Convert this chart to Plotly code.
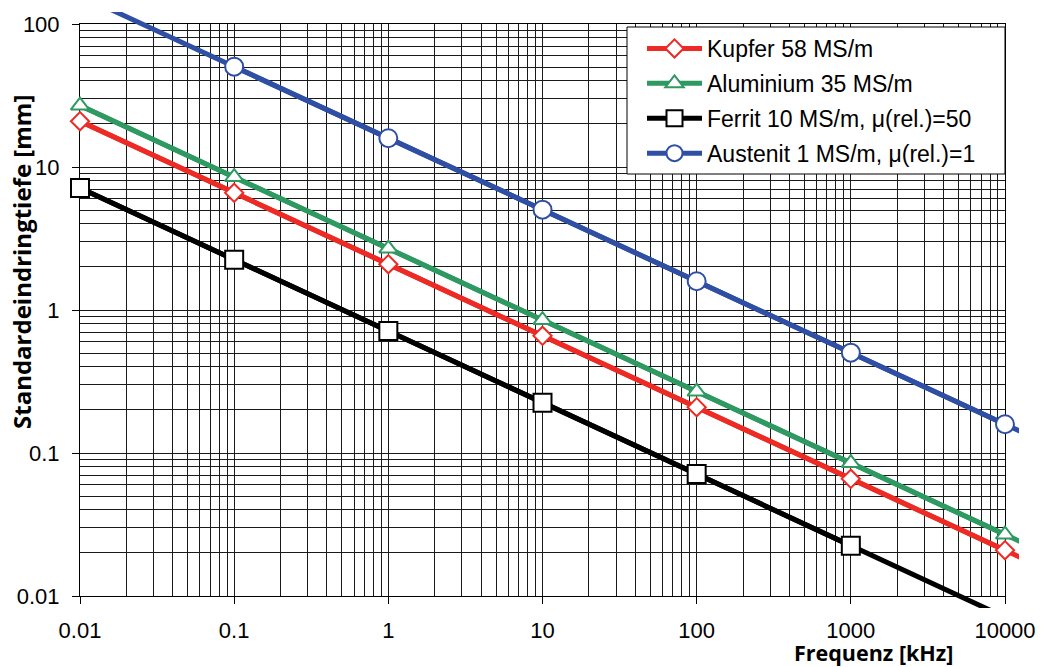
import plotly.graph_objects as go

# ---------------- data ----------------
freq_khz = [0.01, 0.1, 1, 10, 100, 1000, 10000, 100000]   # last point only extends the line
kupfer_mm = [20.9, 6.6, 2.09, 0.66, 0.209, 0.066, 0.0209, 0.0066]
aluminium_mm = [26.9, 8.5, 2.69, 0.85, 0.269, 0.085, 0.0269, 0.0085]
ferrit_mm = [7.12, 2.25, 0.712, 0.225, 0.0712, 0.0225, 0.00712, 0.00225]
austenit_mm = [159, 50.3, 15.9, 5.03, 1.59, 0.503, 0.159, 0.0503]

# index ranges of points that carry a marker
kupfer_marks = (0, 7)
aluminium_marks = (0, 7)
ferrit_marks = (0, 6)
austenit_marks = (1, 7)

x_ticks = [0.01, 0.1, 1, 10, 100, 1000, 10000]
x_ticklabels = ["0.01", "0.1", "1", "10", "100", "1000", "10000"]
y_ticks = [0.01, 0.1, 1, 10, 100]
y_ticklabels = ["0.01", "0.1", "1", "10", "100"]
digits = [2, 3, 4, 5, 6, 7, 8, 9]
x_minor = [d * t for t in x_ticks[:-1] for d in digits]
y_minor = [d * t for t in y_ticks[:-1] for d in digits]

series = [
    ("Kupfer 58 MS/m", kupfer_mm, kupfer_marks, "#EE2A24", "diamond", 14),
    ("Aluminium 35 MS/m", aluminium_mm, aluminium_marks, "#2E9960", "triangle-up", 16),
    ("Ferrit 10 MS/m, μ(rel.)=50", ferrit_mm, ferrit_marks, "#000000", "square", 18),
    ("Austenit 1 MS/m, μ(rel.)=1", austenit_mm, austenit_marks, "#2E4FA3", "circle", 18),
]

W, H = 1042, 667
ML, MR, MT, MB = 80, 23, 12, 59
pw, ph = W - ML - MR, H - MT - MB
# grid region in pixels
gx0, gx1, gy0, gy1 = 80, 1005, 24, 596
dec_x = (gx1 - gx0) / 6.0
dec_y = (gy1 - gy0) / 4.0
# legend box in pixels
lx0, lx1, ly0, ly1 = 627, 1005, 27, 174


def px_x(p):
    return (p - ML) / pw


def px_y(p):
    return (H - MB - p) / ph


fig = go.Figure()

# dummy trace to create the grid subplot
fig.add_trace(go.Scatter(x=[x_ticks[0]], y=[y_ticks[0]], mode="markers",
                         marker=dict(size=1, color="rgba(0,0,0,0)"),
                         showlegend=False, hoverinfo="skip", xaxis="x", yaxis="y"))

for name, vals, (a, b), color, sym, size in series:
    # full line (extends past the markers, clipped at the plot edges)
    fig.add_trace(go.Scatter(x=freq_khz, y=vals, mode="lines",
                             line=dict(color=color, width=5),
                             showlegend=False, hoverinfo="skip",
                             xaxis="x2", yaxis="y2"))
    fig.add_trace(go.Scatter(x=freq_khz[a:b], y=vals[a:b], mode="lines+markers", name=name,
                             legendgroup=name,
                             line=dict(color=color, width=5),
                             marker=dict(symbol=sym, size=size, color="white",
                                         line=dict(color=color, width=2)),
                             cliponaxis=False, xaxis="x2", yaxis="y2"))

tickfont = dict(family="Liberation Sans, Arial", size=22, color="black")
gridc = "#1a1a1a"

fig.update_layout(
    width=W, height=H,
    margin=dict(l=ML, r=MR, t=MT, b=MB, autoexpand=False),
    paper_bgcolor="white", plot_bgcolor="rgba(0,0,0,0)",
    xaxis=dict(type="log", domain=[0, (gx1 - gx0) / pw], range=[-2, 4], anchor="y",
               automargin=False,
               tickmode="array", tickvals=x_ticks, ticktext=x_ticklabels,
               ticks="outside", ticklen=7, tickcolor="black", tickwidth=1,
               tickfont=tickfont, ticklabelstandoff=8,
               showgrid=True, gridcolor=gridc, gridwidth=1,
               minor=dict(tickmode="array", tickvals=x_minor, showgrid=True,
                          gridcolor=gridc, gridwidth=1, ticks=""),
               showline=True, linecolor="black", linewidth=1, mirror=True,
               zeroline=False, fixedrange=True),
    yaxis=dict(type="log", domain=[px_y(gy1), px_y(gy0)], range=[-2, 2], anchor="x",
               automargin=False,
               tickmode="array", tickvals=y_ticks, ticktext=y_ticklabels,
               ticks="outside", ticklen=7, tickcolor="black", tickwidth=1,
               tickfont=tickfont, ticklabelstandoff=8,
               showgrid=True, gridcolor=gridc, gridwidth=1,
               minor=dict(tickmode="array", tickvals=y_minor, showgrid=True,
                          gridcolor=gridc, gridwidth=1, ticks=""),
               showline=True, linecolor="black", linewidth=1, mirror=True,
               zeroline=False, fixedrange=True),
    xaxis2=dict(type="log", domain=[0, 1], anchor="y2", visible=False, automargin=False,
                range=[-2, -2 + pw / dec_x], fixedrange=True),
    yaxis2=dict(type="log", domain=[0, 1], anchor="x2", visible=False, automargin=False,
                range=[-2 - (H - MB - gy1) / dec_y, 2 + (gy0 - MT) / dec_y], fixedrange=True),
    legend=dict(x=px_x(lx0), y=px_y(ly0), xanchor="left", yanchor="top",
                bgcolor="rgba(0,0,0,0)", borderwidth=0,
                font=dict(family="Liberation Sans, Arial", size=23, color="black"),
                itemwidth=55, indentation=15, tracegroupgap=2, traceorder="grouped"),
    showlegend=True,
    shapes=[
        dict(type="rect", xref="paper", yref="paper",
             x0=px_x(lx0), x1=px_x(lx1), y0=px_y(ly1), y1=px_y(ly0),
             fillcolor="white", line=dict(color="black", width=1), layer="above"),
    ],
    annotations=[
        dict(text="<b>Frequenz [kHz]</b>", xref="paper", yref="paper",
             x=px_x(873), y=px_y(652), xanchor="center", yanchor="middle",
             showarrow=False, font=dict(family="Open Sans", size=21.5, color="black")),
        dict(text="<b>Standardeindringtiefe [mm]</b>", xref="paper", yref="paper",
             x=px_x(21), y=px_y(262), xanchor="center", yanchor="middle",
             textangle=-90, showarrow=False,
             font=dict(family="Open Sans", size=24, color="black")),
    ],
)

fig.write_html("out.html")
